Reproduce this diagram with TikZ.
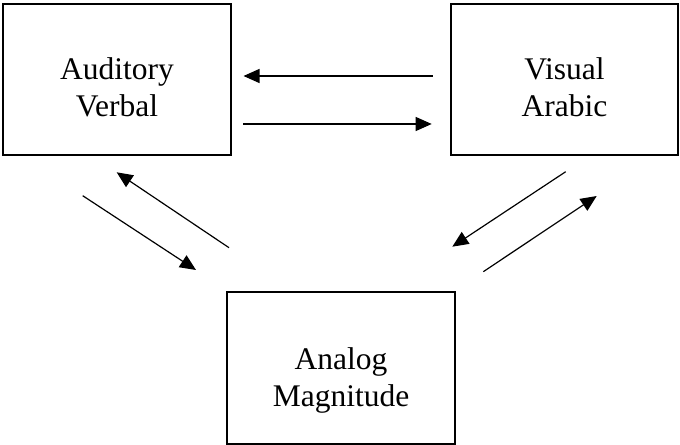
\documentclass[tikz,border=0pt]{standalone}
\usepackage{fontspec}
\setmainfont{Liberation Serif}
\usetikzlibrary{arrows.meta}
\begin{document}
\begin{tikzpicture}[x=1bp,y=-1bp,
  box/.style={draw, line width=1.5bp, inner sep=0pt},
  lbl/.style={font=\fontsize{31.5bp}{37bp}\selectfont, align=center, inner sep=0pt},
  arr/.style={line width=1.2bp, -{Triangle[length=16bp,width=14bp]}}]
\useasboundingbox (0,0) rectangle (680,445);
% boxes
\node[box, minimum width=228bp, minimum height=151bp] (av) at (117,79.5) {};
\node[box, minimum width=227bp, minimum height=151bp] (va) at (564.5,79.5) {};
\node[box, minimum width=228bp, minimum height=152bp] (am) at (341,368) {};
% labels
\node[lbl] (avt) at (117,87.7) {Auditory\\Verbal};
\node[lbl] (vat) at (564.5,87.7) {Visual\\Arabic};
\node[lbl] (amt) at (341,380.5) {Analog\\Magnitude};
% arrow end points
\coordinate (a1s) at (432.7,76);   \coordinate (a1e) at (243.5,76);
\coordinate (a2s) at (243,124);    \coordinate (a2e) at (431.7,124);
\coordinate (b1s) at (82.7,195.7); \coordinate (b1e) at (196,270);
\coordinate (b2s) at (229,247.7);  \coordinate (b2e) at (116.7,172.3);
\coordinate (c1s) at (565.7,171.7);\coordinate (c1e) at (452.3,246.7);
\coordinate (c2s) at (483.3,271.7);\coordinate (c2e) at (596.7,196);
% arrows
\draw[arr] (a1s) -- (a1e);
\draw[arr] (a2s) -- (a2e);
\draw[arr] (b1s) -- (b1e);
\draw[arr] (b2s) -- (b2e);
\draw[arr] (c1s) -- (c1e);
\draw[arr] (c2s) -- (c2e);
\end{tikzpicture}
\end{document}
